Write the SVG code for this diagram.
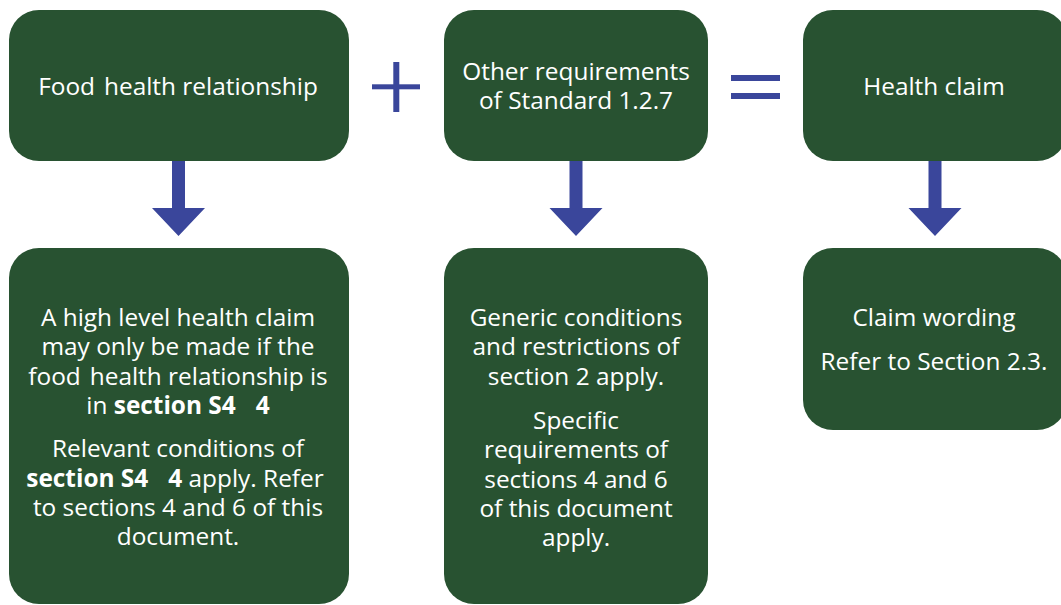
<svg xmlns="http://www.w3.org/2000/svg" width="1061" height="605" viewBox="0 0 1061 605">
<style>
.box{fill:#285231}
.t{font-family:"Open Sans","Noto Sans","DejaVu Sans",sans-serif;font-size:24.4px;fill:#ffffff;text-anchor:middle}
.b{font-weight:bold}
.sym{fill:#3a469b}
</style>
<defs>
<path id="arrow" d="M-6.5,0 H6.5 V47 H26.5 L0,75 L-26.5,47 H-6.5 Z"/>
</defs>
<rect width="1061" height="605" fill="#ffffff"/>
<g id="connectors" class="sym">
<use href="#arrow" x="178.5" y="161"/>
<use href="#arrow" x="576" y="161"/>
<use href="#arrow" x="935" y="161"/>
</g>
<g id="plus" class="sym">
<rect x="372" y="84.3" width="48" height="5"/>
<rect x="393.3" y="62" width="6" height="50"/>
</g>
<g id="equals" class="sym">
<rect x="731" y="75" width="49" height="6"/>
<rect x="731" y="93" width="49" height="6"/>
</g>
<g id="n1">
<rect class="box" x="9" y="10" width="340" height="151" rx="30"/>
<text class="t" x="178" y="95">Food<tspan dx="9">health relationship</tspan></text>
</g>
<g id="n2">
<rect class="box" x="444" y="10" width="264" height="151" rx="30"/>
<text class="t" x="576" y="80">Other requirements</text>
<text class="t" x="576" y="109">of Standard 1.2.7</text>
</g>
<g id="n3">
<rect class="box" x="803" y="10" width="264" height="151" rx="30"/>
<text class="t" x="934" y="95">Health claim</text>
</g>
<g id="n4">
<rect class="box" x="9" y="248" width="340" height="356" rx="30"/>
<text class="t" x="178" y="326">A high level health claim</text>
<text class="t" x="178" y="355">may only be made if the</text>
<text class="t" x="178" y="385">food<tspan dx="9">health relationship is</tspan></text>
<text class="t" x="178" y="414">in <tspan class="b">section S4</tspan><tspan class="b" dx="20">4</tspan></text>
<text class="t" x="178" y="457">Relevant conditions of</text>
<text class="t" x="175" y="487"><tspan class="b">section S4</tspan><tspan class="b" dx="20">4</tspan> apply. Refer</text>
<text class="t" x="178" y="516">to sections 4 and 6 of this</text>
<text class="t" x="178" y="545">document.</text>
</g>
<g id="n5">
<rect class="box" x="444" y="248" width="264" height="356" rx="30"/>
<text class="t" x="576" y="326">Generic conditions</text>
<text class="t" x="576" y="355">and restrictions of</text>
<text class="t" x="576" y="385">section 2 apply.</text>
<text class="t" x="576" y="429">Specific</text>
<text class="t" x="576" y="458">requirements of</text>
<text class="t" x="576" y="488">sections 4 and 6</text>
<text class="t" x="576" y="517">of this document</text>
<text class="t" x="576" y="546">apply.</text>
</g>
<g id="n6">
<rect class="box" x="803" y="248" width="264" height="182" rx="30"/>
<text class="t" x="934" y="326">Claim wording</text>
<text class="t" x="934" y="370">Refer to Section 2.3.</text>
</g>
</svg>
